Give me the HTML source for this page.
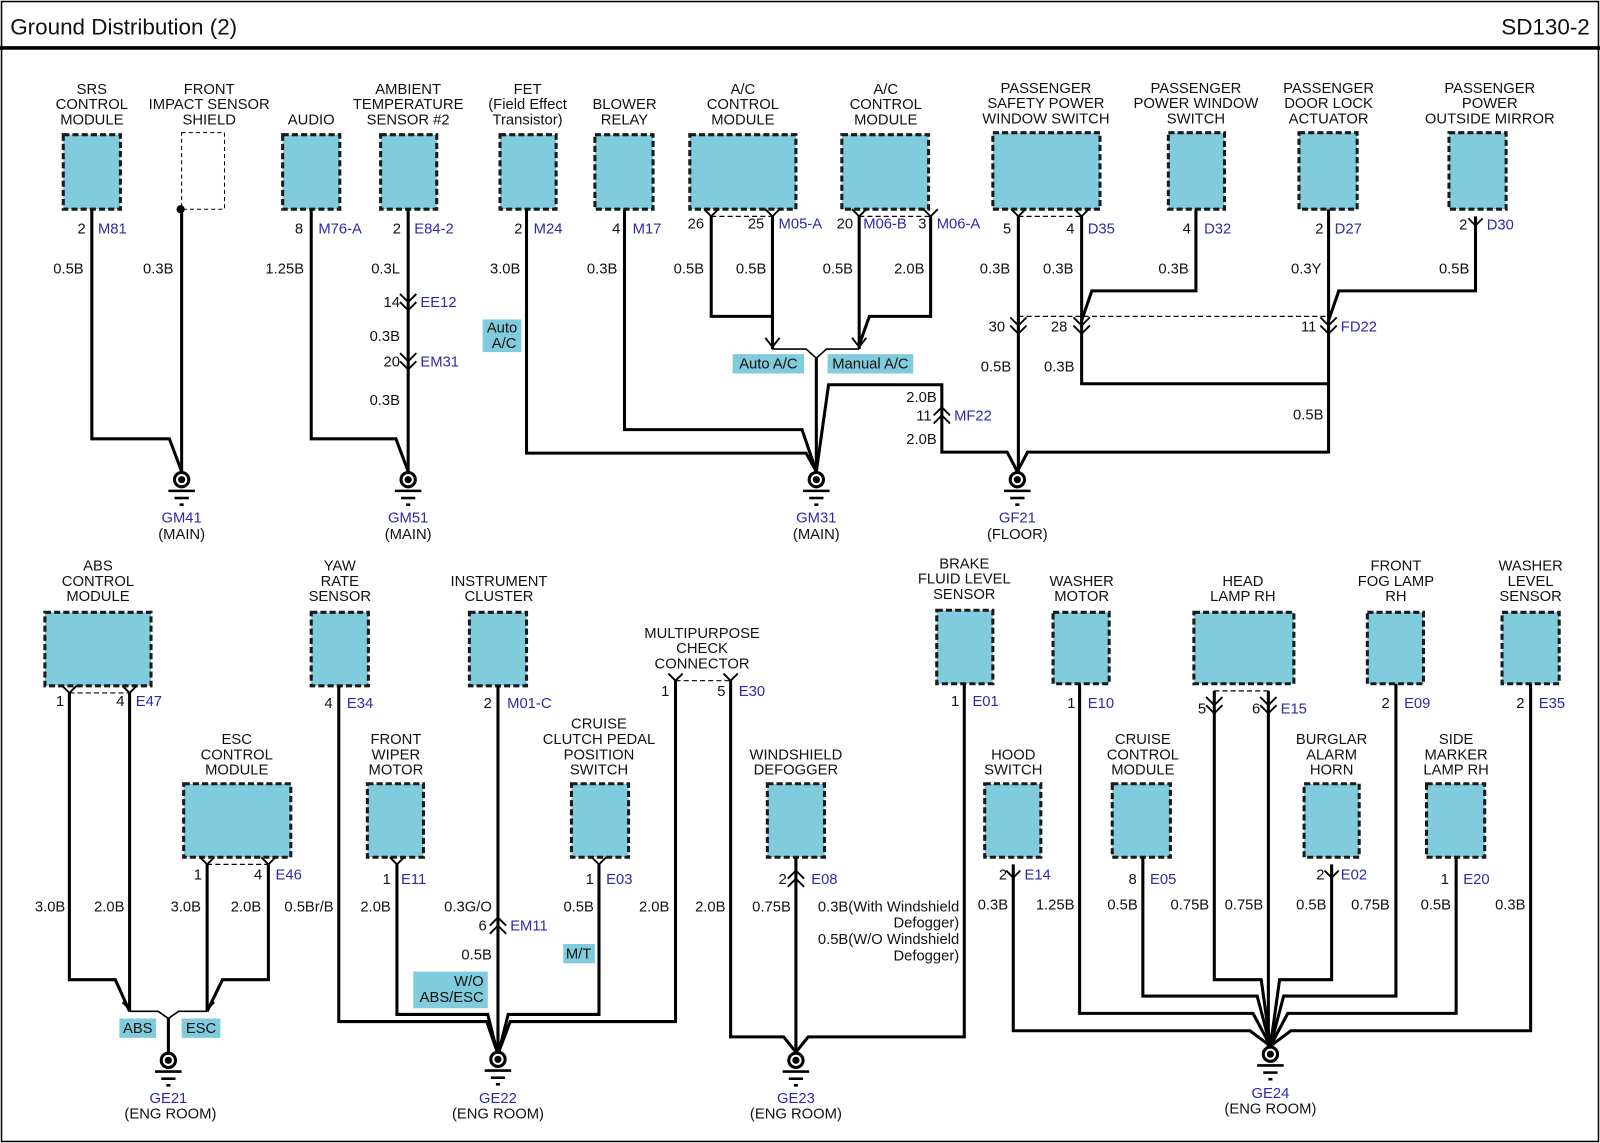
<!DOCTYPE html>
<html><head><meta charset="utf-8"><style>
html,body{margin:0;padding:0;background:#fff;}
svg{display:block;}
text{font-family:"Liberation Sans",Arial,sans-serif;font-size:14.5px;fill:#111;}
.b{fill:#2a2aa8;}
.t{text-anchor:middle;}
.r{text-anchor:end;}
.w{fill:none;stroke:#000;stroke-width:3;stroke-linejoin:miter;}
.bx{fill:#80cbdc;stroke:#1a1a1a;stroke-width:3;stroke-dasharray:6 3;}
.lb{fill:#80cbdc;}
.v{fill:none;stroke:#000;stroke-width:1.8;}
.d{fill:none;stroke:#000;stroke-width:1.2;stroke-dasharray:5 3;}
</style></head><body>
<svg width="1600" height="1143" viewBox="0 0 1568 1120" preserveAspectRatio="none" xmlns="http://www.w3.org/2000/svg">
<defs>
<g id="gnd"><circle cx="0" cy="0" r="7" fill="#fff" stroke="#000" stroke-width="3"/><circle cx="0" cy="0" r="3.5" fill="#000"/><line x1="-13" y1="11" x2="13" y2="11" stroke="#000" stroke-width="2.5"/><line x1="-7" y1="18" x2="7" y2="18" stroke="#000" stroke-width="2.5"/><line x1="-2" y1="24.5" x2="2" y2="24.5" stroke="#000" stroke-width="2.5"/></g>
<g id="cd"><path d="M-8,-7 L0,1 L8,-7 M-8,1 L0,9 L8,1" class="v"/></g>
<g id="cu"><path d="M-8,7 L0,-1 L8,7 M-8,-1 L0,-9 L8,-1" class="v"/></g>
<g id="pv"><path d="M-7,0 L0,7 L7,0" class="v"/></g>
</defs>
<rect x="1.5" y="1.5" width="1565" height="1117" fill="none" stroke="#000" stroke-width="1.5"/>
<line x1="0" y1="47" x2="1568" y2="47" stroke="#000" stroke-width="3.5"/>
<text x="10" y="34" style="font-size:22px">Ground Distribution (2)</text>
<text x="1558" y="34" class="r" style="font-size:22px">SD130-2</text>

<!-- TOP ROW BOXES -->
<rect class="bx" x="62" y="132" width="56" height="73"/>
<text class="t" x="90" y="92">SRS</text><text class="t" x="90" y="107">CONTROL</text><text class="t" x="90" y="122">MODULE</text>
<rect x="178" y="130" width="42" height="75" fill="#fff" stroke="#000" stroke-width="1" stroke-dasharray="4 3"/>
<text class="t" x="205" y="92">FRONT</text><text class="t" x="205" y="107">IMPACT SENSOR</text><text class="t" x="205" y="122">SHIELD</text>
<rect class="bx" x="277" y="132" width="56" height="73"/>
<text class="t" x="305" y="122">AUDIO</text>
<rect class="bx" x="373" y="132" width="55" height="73"/>
<text class="t" x="400" y="92">AMBIENT</text><text class="t" x="400" y="107">TEMPERATURE</text><text class="t" x="400" y="122">SENSOR #2</text>
<rect class="bx" x="490" y="132" width="55" height="73"/>
<text class="t" x="517" y="92">FET</text><text class="t" x="517" y="107">(Field Effect</text><text class="t" x="517" y="122">Transistor)</text>
<rect class="bx" x="583" y="132" width="57" height="73"/>
<text class="t" x="612" y="107">BLOWER</text><text class="t" x="612" y="122">RELAY</text>
<rect class="bx" x="676" y="132" width="104" height="73"/>
<text class="t" x="728" y="92">A/C</text><text class="t" x="728" y="107">CONTROL</text><text class="t" x="728" y="122">MODULE</text>
<rect class="bx" x="825" y="132" width="85" height="73"/>
<text class="t" x="868" y="92">A/C</text><text class="t" x="868" y="107">CONTROL</text><text class="t" x="868" y="122">MODULE</text>
<rect class="bx" x="973" y="130" width="105" height="75"/>
<text class="t" x="1025" y="91">PASSENGER</text><text class="t" x="1025" y="106">SAFETY POWER</text><text class="t" x="1025" y="121">WINDOW SWITCH</text>
<rect class="bx" x="1145" y="130" width="55" height="75"/>
<text class="t" x="1172" y="91">PASSENGER</text><text class="t" x="1172" y="106">POWER WINDOW</text><text class="t" x="1172" y="121">SWITCH</text>
<rect class="bx" x="1273" y="130" width="57" height="75"/>
<text class="t" x="1302" y="91">PASSENGER</text><text class="t" x="1302" y="106">DOOR LOCK</text><text class="t" x="1302" y="121">ACTUATOR</text>
<rect class="bx" x="1420" y="130" width="56" height="75"/>
<text class="t" x="1460" y="91">PASSENGER</text><text class="t" x="1460" y="106">POWER</text><text class="t" x="1460" y="121">OUTSIDE MIRROR</text>

<!-- TOP WIRES -->
<path class="w" d="M90,205 V430 H166 L178,462"/>
<path class="w" d="M178,205 V462"/><circle cx="177" cy="205" r="4" fill="#000"/>
<path class="w" d="M305,205 V430 H388 L400,462"/>
<path class="w" d="M400,205 V462"/>
<path class="w" d="M516,205 V444 H790 L800,462"/>
<path class="w" d="M612,205 V421 H786 L800,462"/>
<path class="w" d="M697,212 V310 H757"/>
<path class="w" d="M757,212 V342"/>
<path class="w" d="M842,212 V342"/>
<path class="w" d="M912,212 V310 H852 L842,338"/>
<path d="M757,342 H790 L800,351 L810,342 H842" fill="none" stroke="#000" stroke-width="1.6"/>
<path class="w" d="M800,351 V462"/>
<path class="w" d="M800,462 L812,377 H923 V443 H987 L997,462"/>
<path class="w" d="M998,212 V462"/>
<path class="w" d="M1060,212 V376 H1302"/>
<path class="w" d="M1172,205 V285 H1070 L1060,314"/>
<path class="w" d="M1302,205 V443 H1007 L997,462"/>
<path class="w" d="M1446,212 V285 H1312 L1302,314"/>
<line x1="998" y1="310" x2="1302" y2="310" class="d"/>
<line x1="697" y1="212" x2="757" y2="212" class="d"/>
<line x1="842" y1="212" x2="912" y2="212" class="d"/>
<line x1="998" y1="212" x2="1060" y2="212" class="d"/>
<use href="#pv" x="697" y="205"/><use href="#pv" x="757" y="205"/><use href="#pv" x="842" y="205"/><use href="#pv" x="912" y="205"/>
<use href="#pv" x="998" y="205"/><use href="#pv" x="1060" y="205"/><use href="#pv" x="1446" y="214"/>
<path d="M750,331 L757,340 L764,331 M835,331 L842,340 L849,331" class="v"/>
<use href="#cd" x="400" y="295"/><use href="#cd" x="400" y="353"/>
<use href="#cd" x="998" y="318"/><use href="#cd" x="1060" y="318"/><use href="#cd" x="1302" y="318"/>
<use href="#cu" x="923" y="408"/>

<!-- top labels -->
<text class="r" x="84" y="229">2</text><text class="b" x="96" y="229">M81</text>
<text class="r" x="297" y="229">8</text><text class="b" x="312" y="229">M76-A</text>
<text class="r" x="393" y="229">2</text><text class="b" x="406" y="229">E84-2</text>
<text class="r" x="512" y="229">2</text><text class="b" x="523" y="229">M24</text>
<text class="r" x="608" y="229">4</text><text class="b" x="620" y="229">M17</text>
<text class="r" x="690" y="224">26</text><text class="r" x="749" y="224">25</text><text class="b" x="763" y="224">M05-A</text>
<text class="r" x="836" y="224">20</text><text class="b" x="846" y="224">M06-B</text>
<text class="r" x="908" y="224">3</text><text class="b" x="918" y="224">M06-A</text>
<text class="r" x="991" y="229">5</text><text class="r" x="1053" y="229">4</text><text class="b" x="1066" y="229">D35</text>
<text class="r" x="1167" y="229">4</text><text class="b" x="1180" y="229">D32</text>
<text class="r" x="1297" y="229">2</text><text class="b" x="1308" y="229">D27</text>
<text class="r" x="1438" y="225">2</text><text class="b" x="1457" y="225">D30</text>
<text class="r" x="82" y="268">0.5B</text><text class="r" x="170" y="268">0.3B</text>
<text class="r" x="298" y="268">1.25B</text><text class="r" x="392" y="268">0.3L</text>
<text class="r" x="510" y="268">3.0B</text><text class="r" x="605" y="268">0.3B</text>
<text class="r" x="690" y="268">0.5B</text><text class="r" x="751" y="268">0.5B</text>
<text class="r" x="836" y="268">0.5B</text><text class="r" x="906" y="268">2.0B</text>
<text class="r" x="990" y="268">0.3B</text><text class="r" x="1052" y="268">0.3B</text>
<text class="r" x="1165" y="268">0.3B</text><text class="r" x="1295" y="268">0.3Y</text>
<text class="r" x="1440" y="268">0.5B</text>
<text class="r" x="392" y="301">14</text><text class="b" x="412" y="301">EE12</text>
<text class="r" x="392" y="334">0.3B</text>
<text class="r" x="392" y="359">20</text><text class="b" x="412" y="359">EM31</text>
<text class="r" x="392" y="397">0.3B</text>
<rect class="lb" x="473" y="313" width="38" height="32"/>
<text class="t" x="492" y="326">Auto</text><text class="t" x="494" y="341">A/C</text>
<rect class="lb" x="718" y="347" width="70" height="19"/><text class="t" x="753" y="361">Auto A/C</text>
<rect class="lb" x="811" y="347" width="84" height="19"/><text class="t" x="853" y="361">Manual A/C</text>
<text class="r" x="918" y="394">2.0B</text><text class="r" x="913" y="412">11</text><text class="b" x="935" y="412">MF22</text><text class="r" x="918" y="435">2.0B</text>
<text class="r" x="985" y="325">30</text><text class="r" x="1046" y="325">28</text><text class="r" x="1290" y="325">11</text><text class="b" x="1314" y="325">FD22</text>
<text class="r" x="991" y="364">0.5B</text><text class="r" x="1053" y="364">0.3B</text><text class="r" x="1297" y="411">0.5B</text>

<!-- top grounds -->
<use href="#gnd" x="178" y="470"/><text class="t b" x="178" y="512">GM41</text><text class="t" x="178" y="528">(MAIN)</text>
<use href="#gnd" x="400" y="470"/><text class="t b" x="400" y="512">GM51</text><text class="t" x="400" y="528">(MAIN)</text>
<use href="#gnd" x="800" y="470"/><text class="t b" x="800" y="512">GM31</text><text class="t" x="800" y="528">(MAIN)</text>
<use href="#gnd" x="997" y="470"/><text class="t b" x="997" y="512">GF21</text><text class="t" x="997" y="528">(FLOOR)</text>

<!-- BOTTOM BOXES -->
<rect class="bx" x="44" y="600" width="104" height="72"/>
<text class="t" x="96" y="559">ABS</text><text class="t" x="96" y="574">CONTROL</text><text class="t" x="96" y="589">MODULE</text>
<rect class="bx" x="305" y="600" width="56" height="72"/>
<text class="t" x="333" y="559">YAW</text><text class="t" x="333" y="574">RATE</text><text class="t" x="333" y="589">SENSOR</text>
<rect class="bx" x="460" y="600" width="56" height="72"/>
<text class="t" x="489" y="574">INSTRUMENT</text><text class="t" x="489" y="589">CLUSTER</text>
<text class="t" x="688" y="625">MULTIPURPOSE</text><text class="t" x="688" y="640">CHECK</text><text class="t" x="688" y="655">CONNECTOR</text>
<rect class="bx" x="180" y="768" width="105" height="72"/>
<text class="t" x="232" y="729">ESC</text><text class="t" x="232" y="744">CONTROL</text><text class="t" x="232" y="759">MODULE</text>
<rect class="bx" x="360" y="768" width="55" height="72"/>
<text class="t" x="388" y="729">FRONT</text><text class="t" x="388" y="744">WIPER</text><text class="t" x="388" y="759">MOTOR</text>
<rect class="bx" x="560" y="768" width="56" height="72"/>
<text class="t" x="587" y="714">CRUISE</text><text class="t" x="587" y="729">CLUTCH PEDAL</text><text class="t" x="587" y="744">POSITION</text><text class="t" x="587" y="759">SWITCH</text>
<rect class="bx" x="752" y="768" width="56" height="72"/>
<text class="t" x="780" y="744">WINDSHIELD</text><text class="t" x="780" y="759">DEFOGGER</text>
<rect class="bx" x="918" y="598" width="55" height="72"/>
<text class="t" x="945" y="557">BRAKE</text><text class="t" x="945" y="572">FLUID LEVEL</text><text class="t" x="945" y="587">SENSOR</text>
<rect class="bx" x="1032" y="600" width="55" height="70"/>
<text class="t" x="1060" y="574">WASHER</text><text class="t" x="1060" y="589">MOTOR</text>
<rect class="bx" x="1170" y="600" width="98" height="70"/>
<text class="t" x="1218" y="574">HEAD</text><text class="t" x="1218" y="589">LAMP RH</text>
<rect class="bx" x="1340" y="600" width="55" height="70"/>
<text class="t" x="1368" y="559">FRONT</text><text class="t" x="1368" y="574">FOG LAMP</text><text class="t" x="1368" y="589">RH</text>
<rect class="bx" x="1472" y="600" width="56" height="70"/>
<text class="t" x="1500" y="559">WASHER</text><text class="t" x="1500" y="574">LEVEL</text><text class="t" x="1500" y="589">SENSOR</text>
<rect class="bx" x="965" y="768" width="55" height="72"/>
<text class="t" x="993" y="744">HOOD</text><text class="t" x="993" y="759">SWITCH</text>
<rect class="bx" x="1090" y="768" width="57" height="72"/>
<text class="t" x="1120" y="729">CRUISE</text><text class="t" x="1120" y="744">CONTROL</text><text class="t" x="1120" y="759">MODULE</text>
<rect class="bx" x="1278" y="768" width="54" height="72"/>
<text class="t" x="1305" y="729">BURGLAR</text><text class="t" x="1305" y="744">ALARM</text><text class="t" x="1305" y="759">HORN</text>
<rect class="bx" x="1398" y="768" width="57" height="72"/>
<text class="t" x="1427" y="729">SIDE</text><text class="t" x="1427" y="744">MARKER</text><text class="t" x="1427" y="759">LAMP RH</text>

<!-- BOTTOM WIRES -->
<path class="w" d="M68,679 V960 H113 L127,991"/>
<path class="w" d="M127,679 V991"/>
<path class="w" d="M203,847 V991"/>
<path class="w" d="M263,847 V960 H218 L203,991"/>
<path d="M127,991 H155 L165,998 L175,991 H203" fill="none" stroke="#000" stroke-width="1.6"/>
<path d="M120,982 L127,989 M210,982 L203,989" class="v"/>
<path class="w" d="M165,998 V1031"/>
<line x1="68" y1="679" x2="127" y2="679" class="d"/>
<line x1="203" y1="847" x2="263" y2="847" class="d"/>
<use href="#pv" x="68" y="672"/><use href="#pv" x="127" y="672"/>
<use href="#pv" x="203" y="840"/><use href="#pv" x="263" y="840"/>

<path class="w" d="M332,672 V1001 H477 L487,1030"/>
<path class="w" d="M389,847 V994 H478 L487,1030"/>
<path class="w" d="M488,672 V1030"/>
<path class="w" d="M587,847 V994 H498 L489,1030"/>
<path class="w" d="M662,667 V1001 H500 L489,1030"/>
<path class="w" d="M716,667 V1016 H768 L780,1031"/>
<line x1="662" y1="667" x2="716" y2="667" class="d"/>
<use href="#pv" x="662" y="660"/><use href="#pv" x="716" y="660"/>
<use href="#pv" x="389" y="840"/><use href="#pv" x="587" y="840"/>
<use href="#cu" x="488" y="908"/>
<path class="w" d="M780,840 V1031"/>
<use href="#cu" x="780" y="862"/>
<path class="w" d="M945,670 V1016 H792 L780,1031"/>

<path class="w" d="M993,847 V1010 H1225 L1245,1025"/>
<path class="w" d="M1058,670 V993 H1228 L1245,1025"/>
<path class="w" d="M1120,840 V976 H1232 L1245,1025"/>
<path class="w" d="M1190,677 V960 H1236 L1245,1025"/>
<path class="w" d="M1243,677 V1025"/>
<path class="w" d="M1305,847 V960 H1254 L1245,1025"/>
<path class="w" d="M1368,670 V976 H1258 L1245,1025"/>
<path class="w" d="M1427,840 V993 H1262 L1245,1025"/>
<path class="w" d="M1500,670 V1010 H1265 L1245,1025"/>
<line x1="1190" y1="677" x2="1243" y2="677" class="d"/>
<use href="#cd" x="1190" y="690"/><use href="#cd" x="1243" y="690"/>
<use href="#pv" x="993" y="853"/><use href="#pv" x="1305" y="853"/>

<!-- bottom grounds -->
<use href="#gnd" x="165" y="1039"/><text class="t b" x="165" y="1081">GE21</text><text class="t" x="167" y="1096">(ENG ROOM)</text>
<use href="#gnd" x="488" y="1038"/><text class="t b" x="488" y="1081">GE22</text><text class="t" x="488" y="1096">(ENG ROOM)</text>
<use href="#gnd" x="780" y="1039"/><text class="t b" x="780" y="1081">GE23</text><text class="t" x="780" y="1096">(ENG ROOM)</text>
<use href="#gnd" x="1245" y="1033"/><text class="t b" x="1245" y="1076">GE24</text><text class="t" x="1245" y="1091">(ENG ROOM)</text>

<!-- bottom labels -->
<text class="r" x="63" y="692">1</text><text class="r" x="122" y="692">4</text><text class="b" x="133" y="692">E47</text>
<text class="r" x="326" y="694">4</text><text class="b" x="340" y="694">E34</text>
<text class="r" x="482" y="694">2</text><text class="b" x="497" y="694">M01-C</text>
<text class="r" x="656" y="682">1</text><text class="r" x="711" y="682">5</text><text class="b" x="724" y="682">E30</text>
<text class="r" x="940" y="692">1</text><text class="b" x="953" y="692">E01</text>
<text class="r" x="1054" y="694">1</text><text class="b" x="1066" y="694">E10</text>
<text class="r" x="1182" y="699">5</text><text class="r" x="1235" y="699">6</text><text class="b" x="1255" y="699">E15</text>
<text class="r" x="1362" y="694">2</text><text class="b" x="1376" y="694">E09</text>
<text class="r" x="1494" y="694">2</text><text class="b" x="1508" y="694">E35</text>
<text class="r" x="198" y="862">1</text><text class="r" x="257" y="862">4</text><text class="b" x="270" y="862">E46</text>
<text class="r" x="383" y="866">1</text><text class="b" x="393" y="866">E11</text>
<text class="r" x="582" y="866">1</text><text class="b" x="594" y="866">E03</text>
<text class="r" x="771" y="866">2</text><text class="b" x="795" y="866">E08</text>
<text class="r" x="987" y="862">2</text><text class="b" x="1004" y="862">E14</text>
<text class="r" x="1114" y="866">8</text><text class="b" x="1127" y="866">E05</text>
<text class="r" x="1298" y="862">2</text><text class="b" x="1314" y="862">E02</text>
<text class="r" x="1420" y="866">1</text><text class="b" x="1434" y="866">E20</text>

<text class="r" x="64" y="893">3.0B</text><text class="r" x="122" y="893">2.0B</text>
<text class="r" x="197" y="893">3.0B</text><text class="r" x="256" y="893">2.0B</text>
<text class="r" x="327" y="893">0.5Br/B</text><text class="r" x="383" y="893">2.0B</text>
<text class="r" x="482" y="893">0.3G/O</text><text class="r" x="582" y="893">0.5B</text>
<text class="r" x="656" y="893">2.0B</text><text class="r" x="711" y="893">2.0B</text>
<text class="r" x="775" y="893">0.75B</text>
<text class="r" x="940" y="893">0.3B(With Windshield</text><text class="r" x="940" y="909">Defogger)</text>
<text class="r" x="940" y="925">0.5B(W/O Windshield</text><text class="r" x="940" y="941">Defogger)</text>
<text class="r" x="477" y="912">6</text><text class="b" x="500" y="912">EM11</text>
<text class="r" x="482" y="940">0.5B</text>
<rect class="lb" x="552" y="925" width="31" height="19"/><text class="t" x="567" y="939">M/T</text>
<rect class="lb" x="405" y="952" width="73" height="36"/><text class="r" x="474" y="966">W/O</text><text class="r" x="474" y="982">ABS/ESC</text>
<rect class="lb" x="117" y="998" width="36" height="19"/><text class="t" x="135" y="1012">ABS</text>
<rect class="lb" x="178" y="998" width="38" height="19"/><text class="t" x="197" y="1012">ESC</text>
<text class="r" x="988" y="891">0.3B</text><text class="r" x="1053" y="891">1.25B</text>
<text class="r" x="1115" y="891">0.5B</text><text class="r" x="1185" y="891">0.75B</text>
<text class="r" x="1238" y="891">0.75B</text><text class="r" x="1300" y="891">0.5B</text>
<text class="r" x="1362" y="891">0.75B</text><text class="r" x="1422" y="891">0.5B</text>
<text class="r" x="1495" y="891">0.3B</text>
</svg>
</body></html>
